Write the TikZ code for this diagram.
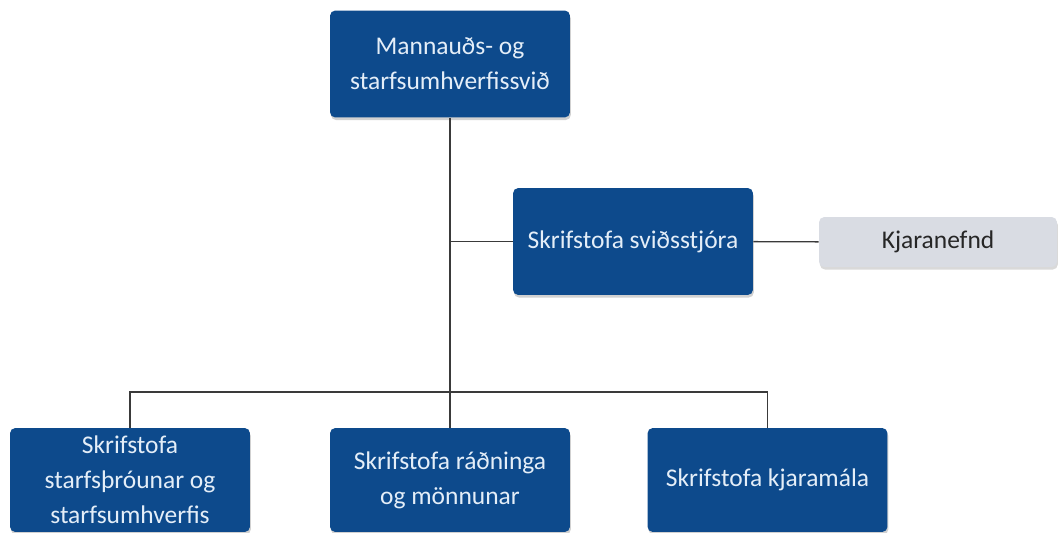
\documentclass[tikz,border=0pt]{standalone}
\usepackage{fontspec}
\setmainfont{Carlito}
\usetikzlibrary{positioning,calc,shadows}
\definecolor{unitblue}{HTML}{0D4A8C}
\definecolor{unittext}{HTML}{E4EEF8}
\definecolor{boardgray}{HTML}{D9DCE3}
\definecolor{linegray}{HTML}{3A3A3A}
\tikzset{font=\fontsize{14.5}{20}\selectfont}

\begin{document}
\begin{tikzpicture}[x=0.02cm, y=-0.02cm]
	\useasboundingbox (0,0) rectangle (1061,533);
	\begin{scope}
		\tikzstyle{unit}=[draw=none, fill=unitblue, text=unittext, rounded corners=3pt, align=center,
			minimum width=4.8cm, minimum height=2.14cm, inner sep=2pt,
			drop shadow={shadow xshift=0.5pt, shadow yshift=-1.5pt, opacity=0.18, fill=black}]
		\tikzstyle{board}=[fill=boardgray, text=black!85, rounded corners=3pt, align=center,
			minimum width=4.76cm, minimum height=1cm, inner sep=2pt,
			drop shadow={shadow xshift=0.5pt, shadow yshift=-1.5pt, opacity=0.15, fill=black}]
		\tikzstyle{link}=[draw=linegray, line width=0.8pt]

		\node[unit] (svid) at (450, 64) {Mannauðs- og\\starfsumhverfissvið};
		\node[unit] (stjori) at (633, 241.5) {Skrifstofa sviðsstjóra};
		\node[board] (kjaranefnd) at (938, 242) {Kjaranefnd};
		\node[unit, minimum height=2.08cm] (throun) at (130, 480) {Skrifstofa\\starfsþróunar og\\starfsumhverfis};
		\node[unit, minimum height=2.08cm] (radning) at (450, 480) {Skrifstofa ráðninga\\og mönnunar};
		\node[unit, minimum height=2.08cm] (kjaramal) at (767.5, 480) {Skrifstofa kjaramála};

		\coordinate (split) at (450, 392);
		\draw[link] (svid) -- (radning);
		\draw[link] (stjori.west) -- (stjori.west -| svid.south);
		\draw[link] (stjori) -- (kjaranefnd);
		\draw[link] (throun.north) |- (split) -| (kjaramal.north);
	\end{scope}
\end{tikzpicture}
\end{document}
